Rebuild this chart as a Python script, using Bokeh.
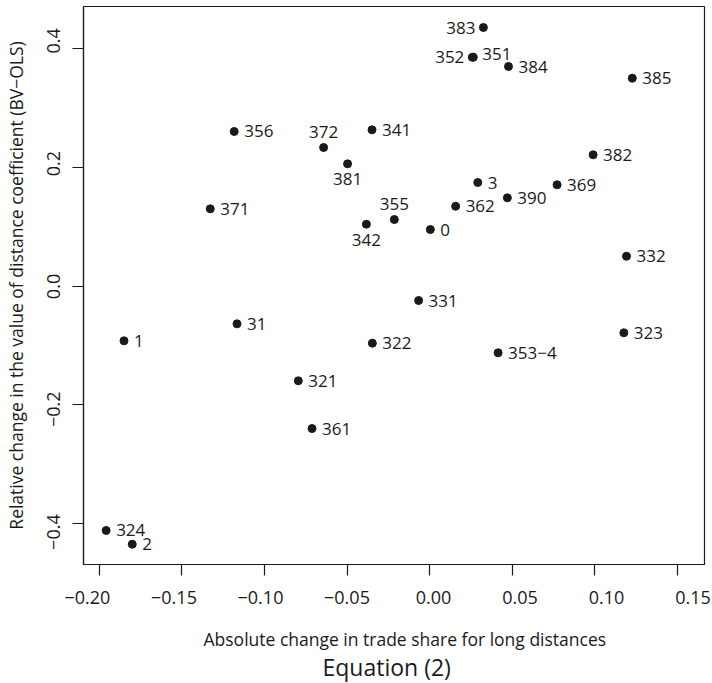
import math
from bokeh.plotting import figure
from bokeh.models import (Range1d, ColumnDataSource, Title, LinearAxis, FixedTicker,
                          CustomLabelingPolicy)
from bokeh.embed import file_html
from bokeh.resources import INLINE
from bokeh.core.properties import value

# ---- data ----
labels = ["0", "1", "2", "3", "31", "321", "322", "323", "324", "331", "332",
          "341", "342", "351", "352", "353−4", "355", "356", "361", "362",
          "369", "371", "372", "381", "382", "383", "384", "385", "390"]
x_share = [0.0004, -0.1850, -0.1800, 0.0291, -0.1166, -0.0795, -0.0347, 0.1175,
           -0.1958, -0.0067, 0.1191, -0.0349, -0.0383, 0.0264, 0.0258, 0.0414,
           -0.0214, -0.1183, -0.0712, 0.0157, 0.0771, -0.1328, -0.0642, -0.0497,
           0.0989, 0.0325, 0.0477, 0.1226, 0.0470]
y_coef = [0.0955, -0.0920, -0.4347, 0.1747, -0.0634, -0.1594, -0.0960, -0.0785,
          -0.4116, -0.0241, 0.0505, 0.2635, 0.1045, 0.3858, 0.3858, -0.1122,
          0.1124, 0.2607, -0.2398, 0.1348, 0.1709, 0.1304, 0.2337, 0.2062,
          0.2214, 0.4359, 0.3702, 0.3505, 0.1489]
# label side: r = right, l = left, a = above, b = below, ru = right, slightly up
label_pos = ["r", "r", "r", "r", "r", "r", "r", "r", "r", "r", "r",
             "r", "b", "ru", "l", "r", "a", "r", "r", "r",
             "r", "r", "a", "b", "r", "l", "r", "r", "r"]

x_ticks = [-0.20, -0.15, -0.10, -0.05, 0.00, 0.05, 0.10, 0.15]
x_tick_labels = ["−0.20", "−0.15", "−0.10", "−0.05", "0.00", "0.05", "0.10", "0.15"]
y_ticks = [-0.4, -0.2, 0.0, 0.2, 0.4]
y_tick_labels = ["−0.4", "−0.2", "0.0", "0.2", "0.4"]

x_title = "Absolute change in trade share for long distances"
y_title = "Relative change in the value of distance coefficient (BV−OLS)"
main_title = "Equation (2)"

FONT = "Open Sans"
INK = "#1a1a1a"

p = figure(width=712, height=683,
           x_range=Range1d(-0.2095, 0.1663), y_range=Range1d(-0.4689, 0.4713),
           output_backend="svg", toolbar_location=None, title=None,
           min_border_left=83, min_border_right=8, min_border_top=6,
           min_border_bottom=119)
p.background_fill_color = "white"
p.border_fill_color = "white"
p.outline_line_color = INK
p.outline_line_width = 1.2
p.xgrid.visible = False
p.ygrid.visible = False

# label scales (the reference's tick labels are spaced slightly wider than its ticks)
p.extra_x_ranges = {"xlab": Range1d(-0.2023, 0.15665)}
p.extra_y_ranges = {"ylab": Range1d(-0.4528, 0.4560)}

# tick-only axes (their own labels are filtered out)
for ax, ticks in ((p.xaxis[0], x_ticks), (p.yaxis[0], y_ticks)):
    ax.ticker = FixedTicker(ticks=ticks)
    ax.major_tick_out = 11
    ax.major_tick_in = 0
    ax.minor_tick_line_color = None
    ax.major_tick_line_color = INK
    ax.major_tick_line_width = 1.2
    ax.axis_line_color = INK
    ax.axis_line_width = 1.2
    ax.major_label_text_font_size = "1px"
    ax.major_label_standoff = 0
    ax.major_label_policy = CustomLabelingPolicy(code="return []")

# label-only axes
xl = LinearAxis(x_range_name="xlab", ticker=FixedTicker(ticks=x_ticks),
                major_label_overrides={t: s for t, s in zip(x_ticks, x_tick_labels)})
yl = LinearAxis(y_range_name="ylab", ticker=FixedTicker(ticks=y_ticks),
                major_label_overrides={t: s for t, s in zip(y_ticks, y_tick_labels)},
                bounds=(-0.4398, 0.4202))
for ax in (xl, yl):
    ax.axis_line_color = None
    ax.major_tick_line_color = None
    ax.minor_tick_line_color = None
    ax.major_tick_out = 0
    ax.major_tick_in = 0
    ax.major_label_text_font = FONT
    ax.major_label_text_font_size = "18px"
    ax.major_label_text_color = INK
xl.major_label_standoff = 11
yl.major_label_standoff = 7
yl.major_label_orientation = "parallel"
yl.axis_label = y_title
yl.axis_label_standoff = 17
yl.axis_label_text_font = FONT
yl.axis_label_text_font_size = "17.5px"
yl.axis_label_text_font_style = "normal"
yl.axis_label_text_color = INK
p.add_layout(xl, "below")
p.add_layout(yl, "left")

# x-axis title and figure caption below
p.add_layout(Title(text=x_title, align="left", offset=120, text_font=FONT,
                   text_font_size="17.5px", text_font_style="normal",
                   text_color=INK, standoff=37), "below")
p.add_layout(Title(text=main_title, align="left", offset=239, text_font=FONT,
                   text_font_size="23px", text_font_style="normal",
                   vertical_align="top",
                   text_color=INK, standoff=-38), "below")

# points
src = ColumnDataSource(dict(x=x_share, y=y_coef, t=labels))
p.scatter("x", "y", source=src, size=8, fill_color=INK, line_color=INK)

# point labels
placements = {
    "r": (10, 0, "left", "middle"),
    "l": (-8, 0, "right", "middle"),
    "a": (0, -15.5, "center", "middle"),
    "b": (0, 15.5, "center", "middle"),
    "ru": (9, -3, "left", "middle"),
}
for code, (dx, dy, al, bl) in placements.items():
    idx = [i for i, c in enumerate(label_pos) if c == code]
    s = ColumnDataSource(dict(x=[x_share[i] for i in idx],
                              y=[y_coef[i] for i in idx],
                              t=[labels[i] for i in idx]))
    p.text("x", "y", "t", source=s, x_offset=dx, y_offset=dy,
           text_align=al, text_baseline=bl, text_font=value(FONT),
           text_font_size="17px", text_color=INK)

open("out.html", "w").write(file_html(p, INLINE))
